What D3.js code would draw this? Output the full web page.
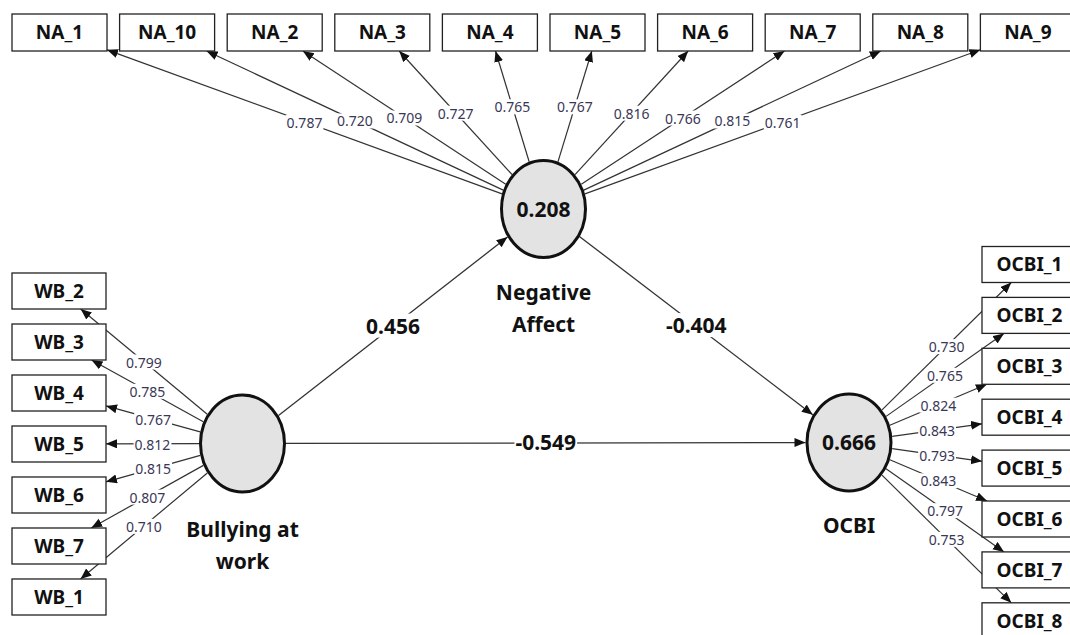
<!DOCTYPE html>
<html>
<head>
<meta charset="utf-8">
<script src="https://cdn.jsdelivr.net/npm/d3@7"></script>
<style>
  body { margin: 0; background: #fff; }
  svg { display: block; font-family: 'Noto Sans', sans-serif; }
</style>
</head>
<body>
<div id="chart"></div>
<script>
var width = 1070;
var height = 635;

// indicator names and outer loadings
var naItems = ['NA_1', 'NA_10', 'NA_2', 'NA_3', 'NA_4', 'NA_5', 'NA_6', 'NA_7', 'NA_8', 'NA_9'];
var naLoadings = [0.787, 0.720, 0.709, 0.727, 0.765, 0.767, 0.816, 0.766, 0.815, 0.761];
var wbItems = ['WB_2', 'WB_3', 'WB_4', 'WB_5', 'WB_6', 'WB_7', 'WB_1'];
var wbLoadings = [0.799, 0.785, 0.767, 0.812, 0.815, 0.807, 0.710];
var ocbiItems = ['OCBI_1', 'OCBI_2', 'OCBI_3', 'OCBI_4', 'OCBI_5', 'OCBI_6', 'OCBI_7', 'OCBI_8'];
var ocbiLoadings = [0.730, 0.765, 0.824, 0.843, 0.793, 0.843, 0.797, 0.753];

// constructs, R squared, structural paths
var constructs = ['Bullying at work', 'Negative Affect', 'OCBI'];
var constructLines = [['Bullying at', 'work'], ['Negative', 'Affect'], ['OCBI']];
var rSquared = [null, 0.208, 0.666];
var pathFrom = ['Bullying at work', 'Negative Affect', 'Bullying at work'];
var pathTo = ['Negative Affect', 'OCBI', 'OCBI'];
var pathCoef = [0.456, -0.404, -0.549];

// layout
var nodePos = {
  'Bullying at work': { x: 242.5, y: 443.5, labelY: 537 },
  'Negative Affect': { x: 543.5, y: 209, labelY: 300 },
  'OCBI': { x: 849, y: 442.5, labelY: 533 }
};
var rx = 42, ry = 48.5, ringW = 3;
var boxW = 95, boxH = 37;

var fmt = d3.formatLocale({ decimal: '.', thousands: ',', grouping: [3], currency: ['', ''], minus: '-' }).format('.3f');

var svg = d3.select('#chart').append('svg')
  .attr('width', width)
  .attr('height', height);

svg.append('defs').append('marker')
  .attr('id', 'arrow')
  .attr('markerUnits', 'userSpaceOnUse')
  .attr('markerWidth', 12)
  .attr('markerHeight', 10)
  .attr('refX', 11)
  .attr('refY', 4.5)
  .attr('orient', 'auto')
  .append('path')
  .attr('d', 'M0,0L11,4.5L0,9Z')
  .attr('fill', '#111');

var naX = d3.scaleBand().domain(naItems).range([12, 1075.4]).paddingInner(0.117).paddingOuter(0);
var wbY = d3.scaleBand().domain(wbItems).range([273, 615]).paddingInner(0.294).paddingOuter(0);
var ocbiY = d3.scaleBand().domain(ocbiItems).range([246.5, 638.8]).paddingInner(0.293).paddingOuter(0);

var boxes = [];
naItems.forEach(function(d, i) {
  boxes.push({ id: d, construct: 'Negative Affect', value: naLoadings[i],
    x: naX(d), y: 14, w: naX.bandwidth(), h: boxH });
});
wbItems.forEach(function(d, i) {
  boxes.push({ id: d, construct: 'Bullying at work', value: wbLoadings[i],
    x: 12, y: wbY(d), w: 94, h: wbY.bandwidth() });
});
ocbiItems.forEach(function(d, i) {
  boxes.push({ id: d, construct: 'OCBI', value: ocbiLoadings[i],
    x: 982, y: ocbiY(d), w: boxW, h: ocbiY.bandwidth() });
});

function ellipseExit(c, dx, dy) {
  var a = rx + ringW / 2, b = ry + ringW / 2;
  var s = 1 / Math.sqrt((dx / a) * (dx / a) + (dy / b) * (dy / b));
  return { x: c.x + s * dx, y: c.y + s * dy };
}

function rectEntry(a, box) {
  var cx = box.x + box.w / 2, cy = box.y + box.h / 2;
  var dx = cx - a.x, dy = cy - a.y;
  var u = Math.min(
    dx === 0 ? Infinity : (box.w / 2) / Math.abs(dx),
    dy === 0 ? Infinity : (box.h / 2) / Math.abs(dy));
  return { x: cx - u * dx, y: cy - u * dy };
}

var lineLayer = svg.append('g');
var labelLayer = svg.append('g');

function addLabel(p, text, cls) {
  var g = labelLayer.append('g');
  var t = g.append('text')
    .attr('x', p.x)
    .attr('y', p.y)
    .attr('text-anchor', 'middle')
    .attr('dy', '0.35em')
    .text(text);
  if (cls === 'path') {
    t.attr('font-size', 21).attr('font-weight', 700).attr('fill', '#111');
  } else {
    t.attr('font-size', 14).attr('fill', '#3a3756');
  }
  var bb = t.node().getBBox();
  g.insert('rect', 'text')
    .attr('x', bb.x - 1)
    .attr('y', bb.y + 2)
    .attr('width', bb.width + 2)
    .attr('height', bb.height - 4)
    .attr('fill', '#fff');
}

// outer model
boxes.forEach(function(d) {
  var c = nodePos[d.construct];
  var end = rectEntry(c, d);
  var start = ellipseExit(c, end.x - c.x, end.y - c.y);
  lineLayer.append('line')
    .attr('x1', start.x).attr('y1', start.y)
    .attr('x2', end.x).attr('y2', end.y)
    .attr('stroke', '#333')
    .attr('stroke-width', 1.2)
    .attr('marker-end', 'url(#arrow)');
  addLabel({ x: (start.x + end.x) / 2, y: (start.y + end.y) / 2 + 1 }, fmt(d.value), 'loading');
});

// inner model
pathCoef.forEach(function(v, i) {
  var a = nodePos[pathFrom[i]], b = nodePos[pathTo[i]];
  var dx = b.x - a.x, dy = b.y - a.y;
  var start = ellipseExit(a, dx, dy);
  var end = ellipseExit(b, -dx, -dy);
  lineLayer.append('line')
    .attr('x1', start.x).attr('y1', start.y)
    .attr('x2', end.x).attr('y2', end.y)
    .attr('stroke', '#333')
    .attr('stroke-width', 1.3)
    .attr('marker-end', 'url(#arrow)');
  addLabel({ x: (a.x + b.x) / 2, y: (a.y + b.y) / 2 }, fmt(v), 'path');
});

// boxes
var box = svg.append('g').selectAll('g')
  .data(boxes)
  .enter().append('g');

box.append('rect')
  .attr('x', function(d) { return d.x; })
  .attr('y', function(d) { return d.y; })
  .attr('width', function(d) { return d.w; })
  .attr('height', function(d) { return d.h; })
  .attr('fill', '#fff')
  .attr('stroke', '#222')
  .attr('stroke-width', 1.3);

box.append('text')
  .attr('x', function(d) { return d.x + d.w / 2; })
  .attr('y', function(d) { return d.y + d.h / 2; })
  .attr('dy', '0.36em')
  .attr('text-anchor', 'middle')
  .attr('font-size', 19)
  .attr('font-weight', 700)
  .attr('fill', '#111')
  .text(function(d) { return d.id; });

// constructs
var node = svg.append('g').selectAll('g')
  .data(constructs)
  .enter().append('g')
  .attr('transform', function(d) { return 'translate(' + nodePos[d].x + ',' + nodePos[d].y + ')'; });

node.append('ellipse')
  .attr('rx', rx)
  .attr('ry', ry)
  .attr('fill', '#e3e3e3')
  .attr('stroke', '#111')
  .attr('stroke-width', ringW);

node.append('text')
  .attr('text-anchor', 'middle')
  .attr('dy', '0.36em')
  .attr('font-size', 21)
  .attr('font-weight', 700)
  .attr('fill', '#111')
  .text(function(d, i) { return rSquared[i] === null ? '' : fmt(rSquared[i]); });

node.each(function(d, i) {
  var t = d3.select(this).append('text')
    .attr('text-anchor', 'middle')
    .attr('y', nodePos[d].labelY - nodePos[d].y)
    .attr('font-size', 21)
    .attr('font-weight', 700)
    .attr('fill', '#111');
  constructLines[i].forEach(function(line, j) {
    t.append('tspan')
      .attr('x', 0)
      .attr('dy', j === 0 ? 0 : 32)
      .text(line);
  });
});
</script>
</body>
</html>
